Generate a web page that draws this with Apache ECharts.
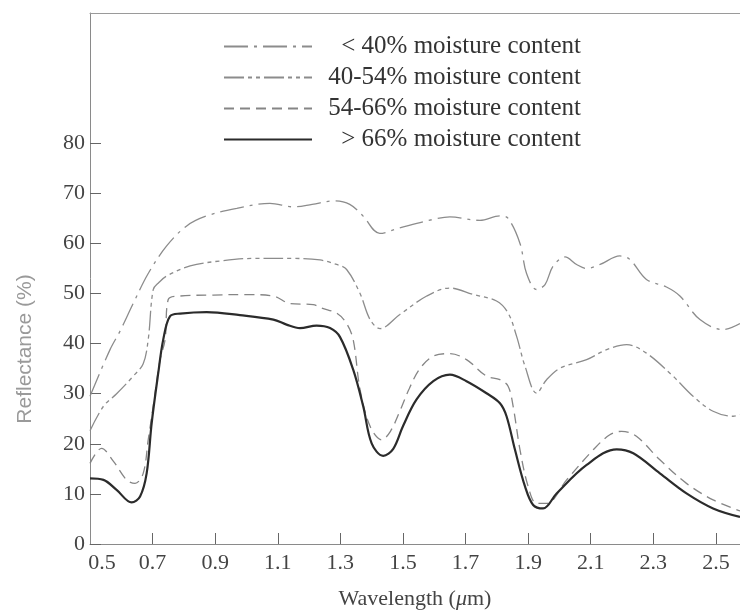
<!DOCTYPE html>
<html>
<head>
<meta charset="utf-8">
<script src="https://cdn.jsdelivr.net/npm/echarts@6/dist/echarts.min.js"></script>
<style>
html,body{margin:0;padding:0;background:#fff;}
#c{width:740px;height:612px;}
</style>
</head>
<body>
<div id="c"></div>
<script>
// ---- data ----
var seriesNames = ['< 40% moisture content', '40-54% moisture content', '54-66% moisture content', '> 66% moisture content'];

var wlA = [0.5, 0.564, 0.596, 0.638, 0.686, 0.745, 0.809, 0.873, 0.969, 1.075, 1.15, 1.21, 1.28, 1.33, 1.372, 1.426, 1.49, 1.597, 1.65, 1.746, 1.81, 1.836, 1.874, 1.895, 1.927, 1.954, 1.98, 2.018, 2.055, 2.087, 2.13, 2.193, 2.225, 2.278, 2.342, 2.385, 2.449, 2.523, 2.577];
var rfA = [29.5, 38.8, 42.5, 48, 54, 59.5, 63.5, 65.5, 67, 68, 67.3, 67.8, 68.5, 67.8, 65.5, 62, 63.1, 64.8, 65.3, 64.6, 65.5, 65, 60, 54, 50.8, 51.8, 55.5, 57.3, 55.8, 55, 55.8, 57.5, 56.8, 52.8, 51.3, 49.5, 44.8, 42.8, 44];

var wlB = [0.5, 0.543, 0.585, 0.638, 0.67, 0.686, 0.702, 0.72, 0.745, 0.82, 0.915, 1.02, 1.15, 1.235, 1.288, 1.32, 1.363, 1.395, 1.427, 1.49, 1.576, 1.65, 1.725, 1.799, 1.836, 1.863, 1.89, 1.927, 1.959, 2.002, 2.087, 2.151, 2.215, 2.278, 2.363, 2.427, 2.491, 2.555, 2.577];
var rfB = [22.6, 27.5, 30, 33.5, 36, 40.8, 50.8, 52.2, 53.5, 55.5, 56.5, 57, 57, 56.7, 55.8, 54.8, 50, 44.8, 43, 45.8, 49.5, 51.1, 49.8, 48.5, 46.1, 41.5, 35.5, 30.1, 32.8, 35.1, 36.8, 38.8, 39.8, 38.1, 33.5, 29.5, 26.5, 25.5, 25.8];

var wlC = [0.5, 0.537, 0.575, 0.617, 0.644, 0.67, 0.686, 0.702, 0.724, 0.74, 0.75, 0.788, 0.894, 1.0, 1.086, 1.139, 1.213, 1.24, 1.29, 1.32, 1.341, 1.363, 1.395, 1.432, 1.46, 1.49, 1.52, 1.554, 1.597, 1.65, 1.703, 1.767, 1.81, 1.836, 1.852, 1.874, 1.9, 1.927, 1.959, 2.023, 2.108, 2.161, 2.199, 2.246, 2.321, 2.406, 2.491, 2.577];
var rfC = [16.1, 19.1, 16.5, 12.8, 12.1, 14.1, 20.8, 27.5, 36.8, 40.8, 48.8, 49.5, 49.7, 49.8, 49.5, 48, 47.8, 47.1, 46, 44, 40.8, 30.8, 23.5, 20.8, 22.5, 26.5, 31, 35, 37.5, 38, 36.8, 33.5, 32.8, 31.5, 27.5, 18.8, 11.5, 8.1, 8.1, 12.8, 18.8, 21.8, 22.5, 21.5, 16.8, 12.1, 8.8, 6.6];

var wlD = [0.5, 0.543, 0.585, 0.633, 0.66, 0.681, 0.697, 0.718, 0.734, 0.756, 0.788, 0.873, 0.979, 1.086, 1.128, 1.171, 1.224, 1.267, 1.299, 1.341, 1.373, 1.4, 1.437, 1.469, 1.5, 1.543, 1.597, 1.65, 1.703, 1.767, 1.81, 1.831, 1.858, 1.89, 1.916, 1.948, 1.991, 2.087, 2.183, 2.236, 2.321, 2.406, 2.491, 2.577];
var rfD = [13.1, 12.8, 10.8, 8.3, 9.5, 14.1, 24.1, 34.1, 40.8, 45.5, 46, 46.3, 45.7, 44.8, 43.8, 43.1, 43.6, 43.1, 41.3, 34.8, 27.5, 20.1, 17.6, 19, 23.5, 28.8, 32.5, 33.8, 32.5, 30.1, 28.1, 25.5, 18.8, 11.5, 7.8, 7.1, 10.1, 15.8, 18.9, 18.1, 14.1, 10.1, 7.1, 5.4];

var xTickValues = [0.7, 0.9, 1.1, 1.3, 1.5, 1.7, 1.9, 2.1, 2.3, 2.5];
var xLabelValues = [0.5, 0.7, 0.9, 1.1, 1.3, 1.5, 1.7, 1.9, 2.1, 2.3, 2.5];
var yTickValues = [0, 10, 20, 30, 40, 50, 60, 70, 80];

var xTitle = 'Wavelength ({i|μ}m)';
var yTitle = 'Reflectance (%)';

function pairs(xs, ys) { return xs.map(function (x, i) { return [x, ys[i]]; }); }

var SERIF = '"Liberation Serif", "DejaVu Serif", serif';
var chart = echarts.init(document.getElementById('c'));

var lineStyles = [
  { color: '#8c8c8c', width: 1.3, type: [24, 6, 3, 6] },
  { color: '#8c8c8c', width: 1.3, type: [20, 4, 4, 4, 4, 4] },
  { color: '#858585', width: 1.3, type: [10, 6] },
  { color: '#2b2b2b', width: 2.2, type: 'solid' }
];
var dataSets = [pairs(wlA, rfA), pairs(wlB, rfB), pairs(wlC, rfC), pairs(wlD, rfD)];
var XMIN = 0.5, XMAX = 2.577;

chart.setOption({
  animation: false,
  backgroundColor: '#fff',
  grid: { left: 90, right: 0, top: 13, bottom: 68, outerBoundsMode: 'none', containLabel: false },
  legend: {
    orient: 'vertical', left: 223, top: 34, padding: 0,
    itemWidth: 88, itemHeight: 14, itemGap: 6,
    itemStyle: { opacity: 0 },
    textStyle: {
      fontFamily: SERIF, fontSize: 25, color: '#333',
      rich: { t: { width: 264, align: 'right', lineHeight: 22, fontFamily: SERIF, fontSize: 25, color: '#333' } }
    },
    formatter: function (n) { return '{t|' + n + '}'; },
    data: seriesNames
  },
  xAxis: [{
    type: 'value', min: XMIN, max: XMAX,
    name: xTitle, nameLocation: 'middle', nameGap: 44,
    nameTextStyle: { fontFamily: SERIF, fontSize: 22, color: '#444',
      rich: { i: { fontStyle: 'italic', fontFamily: SERIF, fontSize: 22, color: '#444' } } },
    axisLine: { lineStyle: { color: '#8a8a8a', width: 1 } },
    axisTick: { inside: true, length: 11, customValues: xTickValues, lineStyle: { color: '#666' } },
    axisLabel: {
      customValues: xLabelValues, margin: 8,
      fontFamily: SERIF, fontSize: 22, color: '#444',
      formatter: function (v) { return v === 0.5 ? '{f|0.5}' : v.toFixed(1); },
      rich: { f: { padding: [0, 0, 0, 24], fontFamily: SERIF, fontSize: 22, color: '#444' } }
    },
    splitLine: { show: false }
  }, {
    type: 'value', position: 'top', min: XMIN, max: XMAX,
    axisLine: { show: true, lineStyle: { color: '#9a9a9a', width: 1 } },
    axisTick: { show: false }, axisLabel: { show: false }, splitLine: { show: false }
  }],
  yAxis: {
    type: 'value', min: 0, max: 106,
    axisLine: { show: true, lineStyle: { color: '#8a8a8a', width: 1 } },
    axisTick: { show: true, inside: true, length: 11, customValues: yTickValues, lineStyle: { color: '#666' } },
    axisLabel: {
      customValues: yTickValues, margin: 5,
      fontFamily: SERIF, fontSize: 22, color: '#444'
    },
    splitLine: { show: false }
  },
  graphic: [{
    type: 'text', x: 25, y: 349, rotation: Math.PI / 2,
    style: { text: yTitle, fontFamily: '"Liberation Sans", "DejaVu Sans", sans-serif', fontSize: 21, fill: '#9a9a9a', align: 'center', verticalAlign: 'middle' }
  }],
  series: seriesNames.map(function (n, i) {
    return {
      name: n, type: 'line', data: dataSets[i], xAxisIndex: 0,
      showSymbol: false, symbol: 'none', smooth: 0.35,
      lineStyle: lineStyles[i], itemStyle: { color: lineStyles[i].color },
      z: i === 3 ? 4 : 3
    };
  })
});
</script>
</body>
</html>
